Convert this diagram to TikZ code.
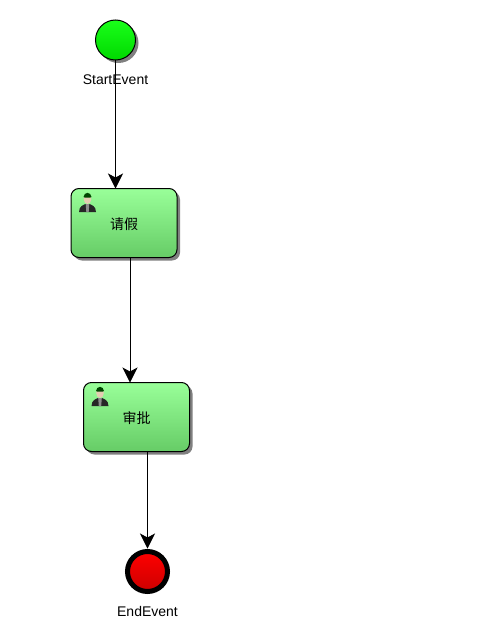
\documentclass[tikz,border=0pt]{standalone}
\usepackage{fontspec}
\setmainfont{Liberation Sans}
\newfontfamily\cjk{Noto Sans CJK SC}
\usetikzlibrary{arrows.meta,shadows}
\definecolor{taskTop}{HTML}{99FF99}
\definecolor{taskBottom}{HTML}{66CC66}
\tikzset{
  flow/.style={draw=black, line width=0.9pt, -{Stealth[length=15pt,width=15pt,inset=4pt]}},
  label/.style={font=\fontsize{14}{16}\selectfont, inner sep=0pt},
  usertask/.style={draw=black, line width=1pt, rounded corners=8pt, minimum width=106pt, minimum height=69pt,
    inner sep=0pt, top color=taskTop, bottom color=taskBottom, text height=14pt, text depth=0.6pt,
    font=\cjk\fontsize{14}{16}\selectfont,
    drop shadow={shadow xshift=3pt, shadow yshift=-3pt, fill=black!50, opacity=1}},
  startevent/.style={circle, draw=black, line width=1pt, minimum size=40pt, inner sep=0pt,
    top color=green!90!white, bottom color=green!85!black,
    drop shadow={shadow xshift=3pt, shadow yshift=-3pt, fill=black!50, opacity=1}},
  endevent/.style={circle, draw=black, line width=5pt, minimum size=40pt, inner sep=0pt,
    top color=red, bottom color=red!80!black},
  usericon/.pic={
    \fill[black!85] (-8.5,10) .. controls (-8.5,4) and (-4,3) .. (-2,2) -- (2,2) .. controls (4,3) and (8.5,4) .. (8.5,10) -- cycle;
    \fill[black!45] (-1.8,2) -- (1.8,2) -- (1.2,10) -- (-1.2,10) -- cycle;
    \fill[brown!40!white] (0,-3) ellipse (3.8pt and 5pt);
    \fill[black!60!green!70!black] (-4,-5) .. controls (-3.5,-10.5) and (3.5,-10.5) .. (4,-5) -- (2.8,-4.5) -- (-2.8,-4.5) -- cycle;
  }
}
\begin{document}
\begin{tikzpicture}[x=1pt, y=-1pt, node distance=40pt]
\useasboundingbox (0,0) rectangle (479,626);
\node[startevent] (start) at (115.5,40) {};
\node[label, below of=start] (startlabel) {StartEvent};
\node[usertask] (leave) at (124,223) {请假};
\node[usertask] (approve) at (136.5,417) {审批};
\node[endevent] (end) at (147.5,571.5) {};
\node[label, below of=end] (endlabel) {EndEvent};
\pic at (87.5,202) {usericon};
\pic at (100,396) {usericon};
\draw[flow] (start.south) -- ([yshift=-0.5pt]start.south |- leave.north);
\draw[flow] ([xshift=6pt]leave.south) -- ([xshift=-6.5pt,yshift=-0.5pt]approve.north);
\draw[flow] (end.north |- approve.south) -- ([yshift=0.5pt]end.north);
\end{tikzpicture}
\end{document}
